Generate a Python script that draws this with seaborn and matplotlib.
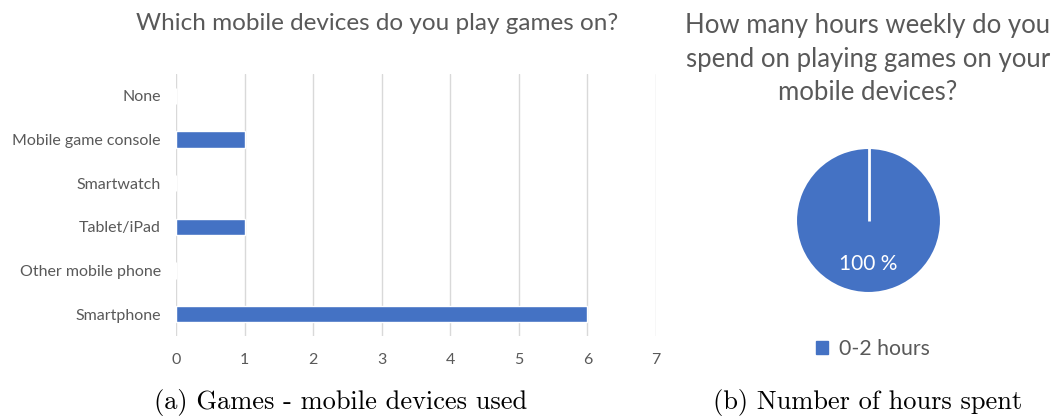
import matplotlib
matplotlib.use("Agg")
import matplotlib.pyplot as plt
import seaborn as sns
import pandas as pd
import numpy as np
from matplotlib.patches import Patch

# ---- data ----
devices = ["None", "Mobile game console", "Smartwatch", "Tablet/iPad",
           "Other mobile phone", "Smartphone"]
device_counts = [0, 1, 0, 1, 0, 6]
x_ticks = [0, 1, 2, 3, 4, 5, 6, 7]

hours_labels = ["0-2 hours"]
hours_values = [100]

BLUE = "#4472C4"
GRAY = "#595959"

sns.set_theme(style="white")
plt.rcParams['font.family'] = ['Lato', 'DejaVu Sans']

W, H = 1058, 418
fig = plt.figure(figsize=(W / 100, H / 100), dpi=100)


def px_axes(left, top, width, height):
    return fig.add_axes([left / W, 1 - (top + height) / H, width / W, height / H])


# ---- bar chart ----
ax = px_axes(176, 74, 480, 262)
df = pd.DataFrame({"device": devices, "count": device_counts})
sns.barplot(data=df, x="count", y="device", orient="h", color=BLUE,
            width=0.37, saturation=1, ax=ax, order=devices)
ax.set_xlim(0, 7)
ax.set_ylim(5.5, -0.5)
ax.set_xticks(x_ticks)
ax.grid(axis="x", color="#d9d9d9", linewidth=1)
ax.set_axisbelow(True)
for s in ax.spines.values():
    s.set_visible(False)
ax.set_xlabel("")
ax.set_ylabel("")
ax.tick_params(axis="both", length=0, colors=GRAY, labelsize=11.5)
ax.tick_params(axis="x", pad=12)
ax.tick_params(axis="y", pad=11)

fig.text(377 / W, 1 - 24 / H, "Which mobile devices do you play games on?",
         ha="center", va="center", fontsize=17.5, color=GRAY)

# ---- pie chart ----
pax = px_axes(796, 148, 145, 145)
wedges, texts, autotexts = pax.pie(
    hours_values, colors=[BLUE], startangle=90, counterclock=False,
    autopct=lambda p: f"{p:.0f} %", pctdistance=0.6,
    wedgeprops=dict(edgecolor="white", linewidth=1.5),
    textprops=dict(color="white", fontsize=15), radius=1)
# white separator line along the wedge's start edge
w = wedges[0]
cx, cy = w.center
ang = np.deg2rad(w.theta1)
pax.plot([cx, cx + w.r * np.cos(ang)], [cy, cy + w.r * np.sin(ang)],
         color="white", linewidth=2, solid_capstyle="butt")
pax.set_xlim(-1, 1)
pax.set_ylim(-1, 1)
pax.set_aspect("equal")
pax.axis("off")

title_lines = ["How many hours weekly do you",
               "spend on playing games on your",
               "mobile devices?"]
for i, line in enumerate(title_lines):
    fig.text(868 / W, 1 - (26 + 33.5 * i) / H, line, ha="center", va="center",
             fontsize=18.5, color=GRAY)

handles = [Patch(facecolor=BLUE, edgecolor=BLUE) for _ in hours_labels]
leg = fig.legend(handles, hours_labels, loc="center",
                 bbox_to_anchor=(873 / W, 1 - 349 / H), frameon=False,
                 handlelength=0.55, handleheight=0.55, handletextpad=0.5,
                 fontsize=15.3)
for t in leg.get_texts():
    t.set_color(GRAY)

# ---- captions ----
fig.text(341 / W, 1 - 402 / H, "(a) Games - mobile devices used",
         ha="center", va="center", fontsize=19, family="cmr10", color="black")
fig.text(868 / W, 1 - 402 / H, "(b) Number of hours spent",
         ha="center", va="center", fontsize=19, family="cmr10", color="black")

fig.savefig("out.png", dpi=100)
